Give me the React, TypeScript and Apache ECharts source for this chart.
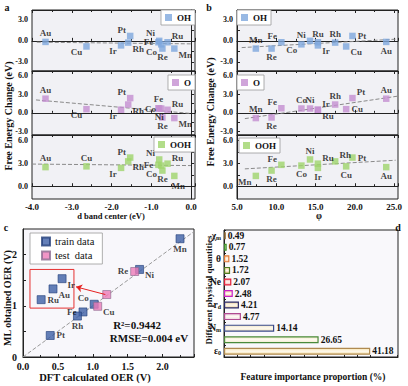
import React, { useEffect, useRef } from "react";
import * as echarts from "echarts";

// ---------------- data ----------------
const elements = ["Au", "Cu", "Ir", "Pt", "Rh", "Ni", "Fe", "Co", "Re", "Ru", "Mn"];
const dBandCenter = [-3.66, -2.63, -1.76, -1.53, -1.58, -0.8, -0.82, -0.75, -0.72, -0.59, -0.42];
const phi = [24.0, 18.9, 15.3, 19.7, 17.5, 14.3, 10.65, 13.2, 9.4, 15.3, 7.4];
const dG_OH = [-0.15, -0.8, -0.65, 0.7, -0.25, 0.0, -0.2, -0.5, -1.1, -0.2, -1.1];
const dG_O = [2.3, 0.6, 0.5, 2.4, 1.35, 0.7, 0.75, 0.7, -0.75, 0.5, -0.85];
const dG_OOH = [2.5, 2.6, 2.4, 3.75, 3.25, 3.5, 2.8, 2.7, 2.05, 2.95, 1.35];
const adsorbateNames = ["OH", "O", "OOH"];

// dashed trend lines (end points)
const fitA_x = [[-3.88, 0], [-3.9, 0], [-4, 0]];
const fitA_y = [[-0.19, -0.43], [2.1, -0.1], [2.9, 2.7]];
const fitB_x = [[5.6, 25.2], [6, 25.4], [6, 25.2]];
const fitB_y = [[-0.96, 0.24], [-0.94, 2.7], [2.27, 3.4]];

// y ranges and ticks of the three stacked sub-plots
const subYRange = [[-4.3, 4.4], [-3.6, 6.8], [-1.67, 6.7]];
const subYLabels = [[-3, 0, 3], [-3, 0, 3, 6], [0, 3, 6]];
const subYTicks = [[-3, -1.5, 0, 1.5, 3], [-3, -1.5, 0, 1.5, 3, 4.5, 6], [0, 1.5, 3, 4.5, 6]];

// panel c
const trainNames = ["Mn", "Ni", "Co", "Fe", "Rh", "Pt", "Au", "Ru", "Ir"];
const trainDFT = [2.25, 1.67, 1.02, 0.86, 0.78, 0.39, 0.43, 0.26, 0.56];
const trainML = [2.31, 1.71, 1.03, 0.88, 0.8, 0.42, 1.33, 1.12, 1.53];
const testNames = ["Re", "Cu", "Ir"];
const testDFT = [1.6, 1.07, 1.2];
const testML = [1.67, 0.99, 1.22];
const diagonal = [[0, 0], [2.45, 2.45]];
const boxCorners = [[0.1, 1.71], [0.73, 0.955]];
const arrowEnds = [[1.18, 1.22], [0.76, 1.37]];
const cYLabels = [0, 1, 2];
const cYTicks = [0, 0.5, 1, 1.5, 2];
const r2Text = "R²=0.9442";
const rmseText = "RMSE=0.004 eV";

// panel d
const featureNames = ["χ_m", "d_2", "θ", "d_3", "Ne", "I_m", "r_d", "d_4", "N_m", "d_1", "ε_0"];
const importance = [0.49, 0.77, 1.52, 1.72, 2.07, 2.48, 4.21, 4.77, 14.14, 26.65, 41.18];

// ---------------- styles ----------------
const FONT = "'Liberation Serif','Times New Roman',serif";
const adsColors = ["#7ea7dd", "#c48fd1", "#9fd46b"];
const subTops = [10, 71, 135];
const subHeights = [61, 64, 64];
const labelsA = [
  ["t", "bl", "bl", "tl", "br", "tl2", "l", "bl2", "b", "tr", "br"],
  ["t", "bl", "bl", "tl", "br", "b", "t", "l", "b", "tr", "br"],
  ["t", "t", "bl", "tl", "br", "tl", "l", "bl2", "b", "tr", "bR"],
];
const labelsB = [
  ["b", "br", "br", "r", "t", "tl", "tl", "bl", "b", "t", "t"],
  ["t", "r", "tr", "tr", "t", "t", "tl", "t", "b", "br", "t"],
  ["b", "b", "b", "r", "tr", "t", "tl", "b", "b", "tr", "bl"],
];
const trainLabelPos = ["b", "br", "tl", "l", "b", "r", "br", "r", "br"];
const testLabelPos = ["l", "br", "n"];
const barBorders = ["#7a5a2a", "#3d8f2a", "#e07a3a", "#4d7a22", "#e0203a", "#c81fc8", "#2a2a6a", "#b04a90", "#3a4a8a", "#4a8a3a", "#b08a50"];
const barFills = ["#f3c48e", "#cdeea8", "#fbcfa8", "#eecb88", "#f7a9b2", "#f6c99a", "#e9cf9e", "#ead3e2", "#efe6c8", "#f1edcc", "#f7e2aa"];

function lab(code: string, fs = 9) {
  const base: any = { show: true, formatter: "{b}", fontFamily: FONT, fontWeight: "bold", fontSize: fs, color: "#111" };
  const m: Record<string, any> = {
    t: { position: "top", distance: 1 },
    b: { position: "bottom", distance: 1 },
    bR: { position: "bottom", distance: 1, offset: [4, 1] },
    l: { position: "left", distance: 2 },
    r: { position: "right", distance: 2 },
    tl: { position: "left", distance: 1, offset: [0, -6] },
    tl2: { position: "left", distance: 1, offset: [0, -8] },
    tr: { position: "right", distance: 1, offset: [0, -6] },
    bl: { position: "left", distance: 1, offset: [0, 6] },
    bl2: { position: "left", distance: 1, offset: [0, 8] },
    br: { position: "right", distance: 1, offset: [0, 6] },
    n: { show: false },
  };
  return { ...base, ...m[code] };
}

const axisFont = { fontFamily: FONT, fontWeight: "bold", color: "#111" };

function buildOption() {
  const grid: any[] = [];
  const xAxis: any[] = [];
  const yAxis: any[] = [];
  const series: any[] = [];
  const legend: any[] = [];
  const adsValues = [dG_OH, dG_O, dG_OOH];

  const panels = [
    { left: 32, width: 163, xs: dBandCenter, xMin: -4, xMax: 0.1, xInt: 1, fx: fitA_x, fy: fitA_y, labels: labelsA, legendPos: (i: number) => ({ right: 213, top: [10, 75, 137][i] }) },
    { left: 237, width: 161, xs: phi, xMin: 5, xMax: 25.5, xInt: 5, fx: fitB_x, fy: fitB_y, labels: labelsB, legendPos: (i: number) => ({ left: [237, 237, 239][i], top: [10, 75, 138][i] }) },
  ];

  panels.forEach((p, pi) => {
    adsorbateNames.forEach((ads, si) => {
      const g = pi * 3 + si;
      grid.push({ left: p.left, top: subTops[si], width: p.width, height: subHeights[si], show: true, backgroundColor: "#f1f1f5", borderColor: "#222", borderWidth: 1 });
      const common = {
        type: "value", gridIndex: g, min: p.xMin, max: p.xMax, interval: p.xInt,
        axisLine: { show: true, lineStyle: { color: "#222" } },
        axisTick: { show: true, inside: true, length: 3, lineStyle: { color: "#222" } },
        minorTick: { show: true, splitNumber: 2, length: 2, lineStyle: { color: "#222" } },
        splitLine: { show: false },
      };
      xAxis.push({
        ...common, position: "bottom",
        axisLabel: { show: si === 2, showMaxLabel: false, formatter: (v: number) => v.toFixed(1), fontSize: 9, margin: 3, ...axisFont },
      });
      xAxis.push({ ...common, position: "top", axisLabel: { show: false } });
      yAxis.push({
        type: "value", gridIndex: g, min: subYRange[si][0], max: subYRange[si][1],
        axisLine: { show: true, lineStyle: { color: "#222" } },
        axisTick: { show: true, inside: true, length: 3, customValues: subYTicks[si], lineStyle: { color: "#222" } },
        axisLabel: { customValues: subYLabels[si], formatter: (v: number) => v.toFixed(1), fontSize: 8, margin: 4, ...axisFont },
        splitLine: { show: false },
      });
      const ys = adsValues[si];
      series.push({
        type: "line", name: "fit" + g, xAxisIndex: g * 2, yAxisIndex: g, silent: true, symbol: "none", z: 1,
        data: p.fx[si].map((x, k) => [x, p.fy[si][k]]),
        lineStyle: { type: "dashed", color: "#8a8a8a", width: 1 },
      });
      series.push({
        type: "scatter", name: ads, xAxisIndex: g * 2, yAxisIndex: g, symbol: "rect", symbolSize: 6.5, z: 3,
        itemStyle: { color: adsColors[si] },
        data: elements.map((el, k) => ({ name: el, value: [p.xs[k], ys[k]], label: lab(p.labels[si][k]) })),
      });
      legend.push({
        ...p.legendPos(si), data: [ads], selectedMode: false, icon: "rect", itemWidth: 7, itemHeight: 7,
        padding: [3, 4, 3, 4], borderColor: "#9a9a9a", borderWidth: 0.8, backgroundColor: "#fff",
        textStyle: { fontSize: 9, ...axisFont },
      });
    });
  });

  // ---- panel c ----
  grid.push({ left: 23, top: 229, width: 171, height: 128, show: true, backgroundColor: "#f8f7fb", borderColor: "#222", borderWidth: 1 });
  xAxis.push({
    type: "value", gridIndex: 6, min: 0, max: 2.45, interval: 0.5,
    axisLine: { show: true, lineStyle: { color: "#222" } },
    axisTick: { inside: true, length: 3, lineStyle: { color: "#222" } },
    minorTick: { show: true, splitNumber: 2, length: 2, lineStyle: { color: "#222" } },
    axisLabel: { showMaxLabel: false, formatter: (v: number) => v.toFixed(1), fontSize: 10, margin: 4, ...axisFont },
    splitLine: { show: false },
  });
  yAxis.push({
    type: "value", gridIndex: 6, min: 0, max: 2.5,
    axisLine: { show: true, lineStyle: { color: "#222" } },
    axisTick: { inside: true, length: 3, customValues: cYTicks, lineStyle: { color: "#222" } },
    axisLabel: { customValues: cYLabels, formatter: (v: number) => String(v), fontSize: 10, margin: 6, ...axisFont },
    splitLine: { show: false },
  });
  series.push({
    type: "line", name: "diag", xAxisIndex: 12, yAxisIndex: 6, silent: true, symbol: "none", z: 1,
    data: diagonal, lineStyle: { type: "dashed", color: "#999", width: 1 },
    markArea: {
      silent: true, itemStyle: { color: "rgba(0,0,0,0)", borderColor: "#e53030", borderWidth: 1 },
      data: [[{ coord: boxCorners[0] }, { coord: boxCorners[1] }]],
    },
    markLine: {
      silent: true, symbol: ["none", "arrow"], symbolSize: 6, label: { show: false },
      lineStyle: { color: "#e52020", width: 1, type: "solid" },
      data: [[{ coord: arrowEnds[0] }, { coord: arrowEnds[1] }]],
    },
  });
  series.push({
    type: "scatter", name: "train data", xAxisIndex: 12, yAxisIndex: 6, symbol: "rect", symbolSize: 8, z: 3,
    itemStyle: { color: "#3d5fa6", borderColor: "#24407a", borderWidth: 0.8 },
    data: trainNames.map((n, k) => ({ name: n, value: [trainDFT[k], trainML[k]], label: lab(trainLabelPos[k]) })),
  });
  series.push({
    type: "scatter", name: "test  data", xAxisIndex: 12, yAxisIndex: 6, symbol: "rect", symbolSize: 8, z: 4,
    itemStyle: { color: "#ec7ab8", borderColor: "#8a6a90", borderWidth: 0.8 },
    data: testNames.map((n, k) => ({ name: n, value: [testDFT[k], testML[k]], label: lab(testLabelPos[k]) })),
  });
  legend.push({
    left: 30, top: 233, orient: "vertical", data: ["train data", "test  data"], selectedMode: false,
    icon: "rect", itemWidth: 8, itemHeight: 8, itemGap: 3, padding: [3, 8, 3, 11],
    borderColor: "#9a9a9a", borderWidth: 0.8, backgroundColor: "#fff",
    textStyle: { fontSize: 10.5, fontFamily: FONT, color: "#111" },
  });

  // ---- panel d ----
  grid.push({ left: 224, top: 230, width: 174, height: 127, show: true, backgroundColor: "#f9f8fb", borderColor: "#222", borderWidth: 1 });
  xAxis.push({
    type: "value", gridIndex: 7, min: 0, max: 49, interval: 15,
    axisLine: { show: true, lineStyle: { color: "#222" } },
    axisTick: { inside: true, length: 4, lineStyle: { color: "#222" } },
    minorTick: { show: true, splitNumber: 4, length: 2, lineStyle: { color: "#222" } },
    axisLabel: { show: false },
    splitLine: { show: false },
  });
  yAxis.push({
    type: "category", gridIndex: 7, data: featureNames, inverse: true,
    axisLine: { show: true, lineStyle: { color: "#222" } },
    axisTick: { show: true, inside: true, length: 2, lineStyle: { color: "#222" } },
    axisLabel: {
      margin: 3,
      formatter: (v: string) => {
        const [b, s] = v.split("_");
        return s ? `{m|${b}}{s|${s}}` : `{m|${b}}`;
      },
      rich: {
        m: { fontSize: 9.5, fontFamily: FONT, fontWeight: "bold", color: "#111", lineHeight: 11 },
        s: { fontSize: 6, fontFamily: FONT, fontWeight: "bold", color: "#111", lineHeight: 11, padding: [4, 0, 0, 0] },
      },
    },
    splitLine: { show: false },
  });
  series.push({
    type: "bar", name: "importance", xAxisIndex: 13, yAxisIndex: 7, barWidth: 7,
    data: importance.map((v, i) => ({
      value: v,
      itemStyle: {
        color: new echarts.graphic.LinearGradient(0, 0, 0, 1, [
          { offset: 0, color: barFills[i] },
          { offset: 0.5, color: "#fffaf0" },
          { offset: 1, color: barFills[i] },
        ]),
        borderColor: barBorders[i], borderWidth: 1.2,
      },
    })),
    label: { show: true, position: "right", distance: 2, formatter: (p: any) => p.value.toFixed(2), fontSize: 9.5, ...axisFont },
  });

  const txt = (text: string, x: number, y: number, size: number, rot = 0, weight = "bold") => ({
    type: "text", x, y, rotation: rot, silent: true,
    style: { text, fontSize: size, fontFamily: FONT, fontWeight: weight, fill: "#111", textAlign: "center", textVerticalAlign: "middle", align: "center", verticalAlign: "middle" },
  });

  const graphic = [
    txt("a", 7, 7, 10),
    txt("b", 209, 7, 10),
    txt("c", 6, 227, 10),
    txt("d", 398, 227, 10),
    txt("Free Energy Change (eV)", 8, 116, 10, Math.PI / 2),
    txt("Free Energy Change (eV)", 210, 112, 10, Math.PI / 2),
    txt("d band center (eV)", 111, 215.5, 8.5),
    txt("φ", 319, 216, 9.5),
    txt("ML obtained OER (V)", 7, 298, 10, Math.PI / 2),
    txt("DFT calculated OER (V)", 95, 377, 10.5),
    txt("Different physical quantities", 209, 290, 9, Math.PI / 2),
    txt("Feature importance proportion (%)", 313, 377, 9.5),
    txt(r2Text, 137, 325, 11),
    txt(rmseText, 149, 338, 11),
  ];

  return { animation: false, backgroundColor: "#fff", grid, xAxis, yAxis, series, legend, graphic };
}

export default function App() {
  const ref = useRef<HTMLDivElement>(null);
  useEffect(() => {
    document.body.style.margin = "0";
    const chart = echarts.init(ref.current!, null, { renderer: "svg" });
    chart.setOption(buildOption() as any);
    return () => chart.dispose();
  }, []);
  return <div ref={ref} style={{ width: 408, height: 386 }} />;
}
